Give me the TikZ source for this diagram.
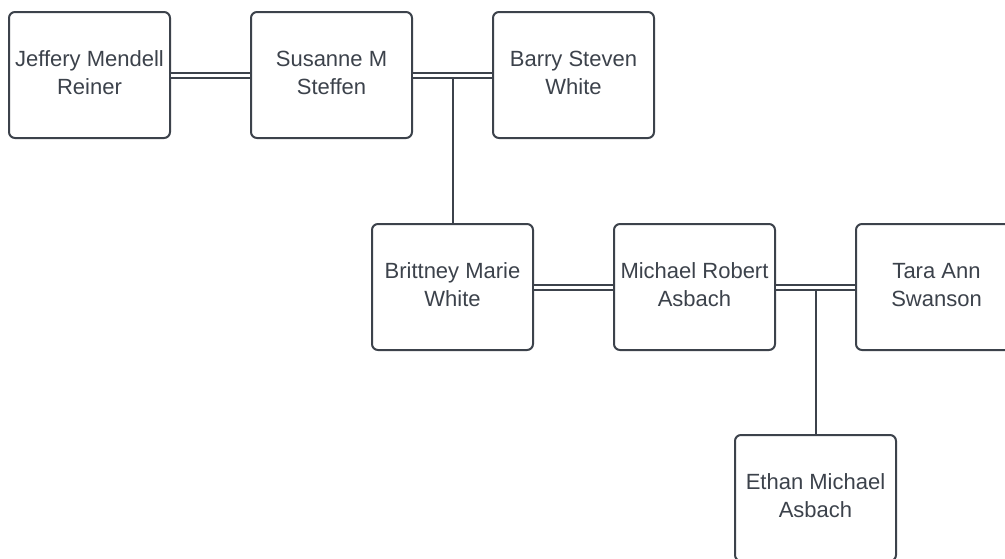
\documentclass[tikz,border=0pt]{standalone}
\usepackage{fontspec}
\setmainfont{Liberation Sans}
\usetikzlibrary{calc}
\definecolor{ink}{HTML}{3C424B}
\newcommand{\twolines}[2]{\raisebox{3pt}{\begin{tabular}{@{}c@{}}#1\\#2\end{tabular}}}
\tikzset{
  person/.style={draw=ink, line width=2pt, rounded corners=6pt, fill=white,
    minimum width=161pt, minimum height=126pt, inner sep=0pt,
    text=ink, align=center, font=\fontsize{22pt}{28pt}\selectfont},
  marriage/.style={draw=ink, line width=2pt, double=white, double distance=3pt},
  descent/.style={draw=ink, line width=2pt}
}
\begin{document}
\begin{tikzpicture}[x=1pt,y=-1pt]
\useasboundingbox (0,0) rectangle (1005,558);
\clip (0,0) rectangle (1005,558);
\node[person] (jeff) at (89.5,75) {\twolines{Jeffery Mendell}{Reiner}};
\node[person] (sus) at (331.5,75) {\twolines{Susanne M}{Steffen}};
\node[person] (barry) at (573.5,75) {\twolines{Barry Steven}{White}};
\node[person] (brit) at (452.5,287) {\twolines{Brittney Marie}{White}};
\node[person] (mich) at (694.5,287) {\twolines{Michael Robert}{Asbach}};
\node[person] (tara) at (936.5,287) {\twolines{Tara Ann}{Swanson}};
\node[person] (ethan) at (815.5,498) {\twolines{Ethan Michael}{Asbach}};
\draw[marriage] (jeff.east) -- (sus.west);
\draw[marriage] (sus.east) -- (barry.west);
\draw[marriage] (brit.east) -- (mich.west);
\draw[marriage] (mich.east) -- (tara.west);
\coordinate (m1) at ($(sus.east)!0.5!(barry.west)+(0,2.5)$);
\coordinate (m2) at ($(mich.east)!0.5!(tara.west)+(0,2.5)$);
\draw[descent] (m1) -- (brit.north);
\draw[descent] (m2) -- (ethan.north);
\end{tikzpicture}
\end{document}
